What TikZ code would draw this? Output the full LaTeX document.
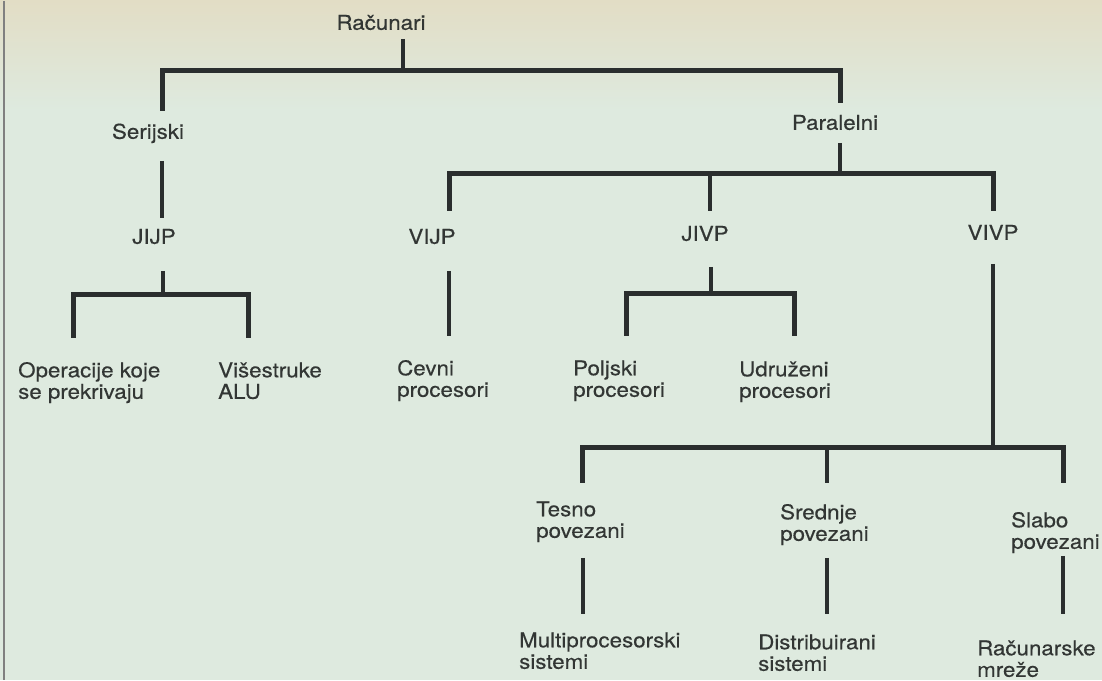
\documentclass[tikz,border=0pt]{standalone}
\usepackage{fontspec}
\setmainfont{TeX Gyre Heros}[FakeStretch=1.1, FakeBold=0.4]
\definecolor{paper}{RGB}{222,234,223}
\definecolor{papertop}{RGB}{226,221,197}
\definecolor{ink}{RGB}{42,46,46}
\definecolor{inktext}{RGB}{50,54,52}

\begin{document}
\begin{tikzpicture}[x = 1pt, y = -1pt,
                        txt/.style = {inner sep = 0, text = inktext, align = left,
                                      font = \fontsize{20.3}{21.5}\selectfont},
                        beam/.style = {draw = ink, line width = 5pt},
                        stem/.style = {draw = ink, line width = 3.2pt}]
      % paper
      \fill [paper] (0, 0) rectangle (1102, 679);
      \shade [top color = papertop, bottom color = paper] (0, 0) rectangle (1102, 110);
      \draw [gray, line width = 1.5pt] (4, 0) -- (4, 679);
      \useasboundingbox (0, 0) rectangle (1102, 679);

      % labels (base of a two-line label = its second line)
      \node [txt, anchor = base] (rac) at (381, 29){Računari};
      \node [txt, anchor = base] (ser) at (148, 138){Serijski};
      \node [txt, anchor = base] (par) at (835, 129){Paralelni};
      \node [txt, anchor = base] (jijp) at (154, 243){JIJP};
      \node [txt, anchor = base] (vijp) at (432, 243){VIJP};
      \node [txt, anchor = base] (jivp) at (705, 240){JIVP};
      \node [txt, anchor = base] (vivp) at (993, 239){VIVP};
      \node [txt, anchor = base west] (ope) at (18, 398){Operacije koje\\se prekrivaju};
      \node [txt, anchor = base west] (vis) at (218, 398){Višestruke\\ALU};
      \node [txt, anchor = base west] (cev) at (397, 396){Cevni\\procesori};
      \node [txt, anchor = base west] (pol) at (573, 396){Poljski\\procesori};
      \node [txt, anchor = base west] (udr) at (739, 397){Udruženi\\procesori};
      \node [txt, anchor = base west] (tes) at (536, 537){Tesno\\povezani};
      \node [txt, anchor = base west] (sre) at (780, 540){Srednje\\povezani};
      \node [txt, anchor = base west] (sla) at (1011, 548){Slabo\\povezani};
      \node [txt, anchor = base west] (mul) at (519, 668){Multiprocesorski\\sistemi};
      \node [txt, anchor = base west] (dis) at (758, 670){Distribuirani\\sistemi};
      \node [txt, anchor = base west] (mre) at (977, 676){Računarske\\mreže};

      % line ends
      \coordinate (rac1) at (403, 38);   \coordinate (rac2) at (403, 70);
      \coordinate (ser0) at (162, 110);  \coordinate (par0) at (840, 102);
      \coordinate (ser1) at (162, 160);  \coordinate (ser2) at (162, 217);
      \coordinate (jijp1) at (163, 270); \coordinate (jijp2) at (163, 294);
      \coordinate (ope0) at (73, 337);   \coordinate (vis0) at (248, 337);
      \coordinate (par1) at (840, 142);  \coordinate (par2) at (840, 173);
      \coordinate (vijp0) at (449, 210); \coordinate (jivp0) at (710, 210);
      \coordinate (vivp0) at (993, 210);
      \coordinate (vijp1) at (449, 270); \coordinate (cev0) at (449, 335);
      \coordinate (jivp1) at (711, 266); \coordinate (jivp2) at (711, 293);
      \coordinate (pol0) at (626, 335);  \coordinate (udr0) at (794, 335);
      \coordinate (vivp1) at (993, 263); \coordinate (vivp2) at (993, 447);
      \coordinate (tes0) at (582, 482);  \coordinate (sre0) at (827, 482);
      \coordinate (sla0) at (1063, 482);
      \coordinate (tes1) at (583, 557);  \coordinate (mul0) at (583, 613);
      \coordinate (sre1) at (827, 557);  \coordinate (dis0) at (827, 613);
      \coordinate (sla1) at (1063, 555); \coordinate (mre0) at (1063, 613);

      % tree
      \draw [stem] (rac1) -- (rac2);
      \draw [beam] (ser0) |- (rac2) -| (par0);
      \draw [stem] (ser1) -- (ser2);
      \draw [stem] (jijp1) -- (jijp2);
      \draw [beam] (ope0) |- (jijp2) -| (vis0);
      \draw [stem] (par1) -- (par2);
      \draw [beam] (vijp0) |- (par2) -| (vivp0);
      \draw [stem] (par2 -| jivp0) -- (jivp0);
      \draw [stem] (vijp1) -- (cev0);
      \draw [stem] (jivp1) -- (jivp2);
      \draw [beam] (pol0) |- (jivp2) -| (udr0);
      \draw [stem] (vivp1) -- (vivp2);
      \draw [beam] (tes0) |- (vivp2) -| (sla0);
      \draw [stem] (vivp2 -| sre0) -- (sre0);
      \draw [stem] (tes1) -- (mul0);
      \draw [stem] (sre1) -- (dis0);
      \draw [stem] (sla1) -- (mre0);
    \end{tikzpicture}
\end{document}
